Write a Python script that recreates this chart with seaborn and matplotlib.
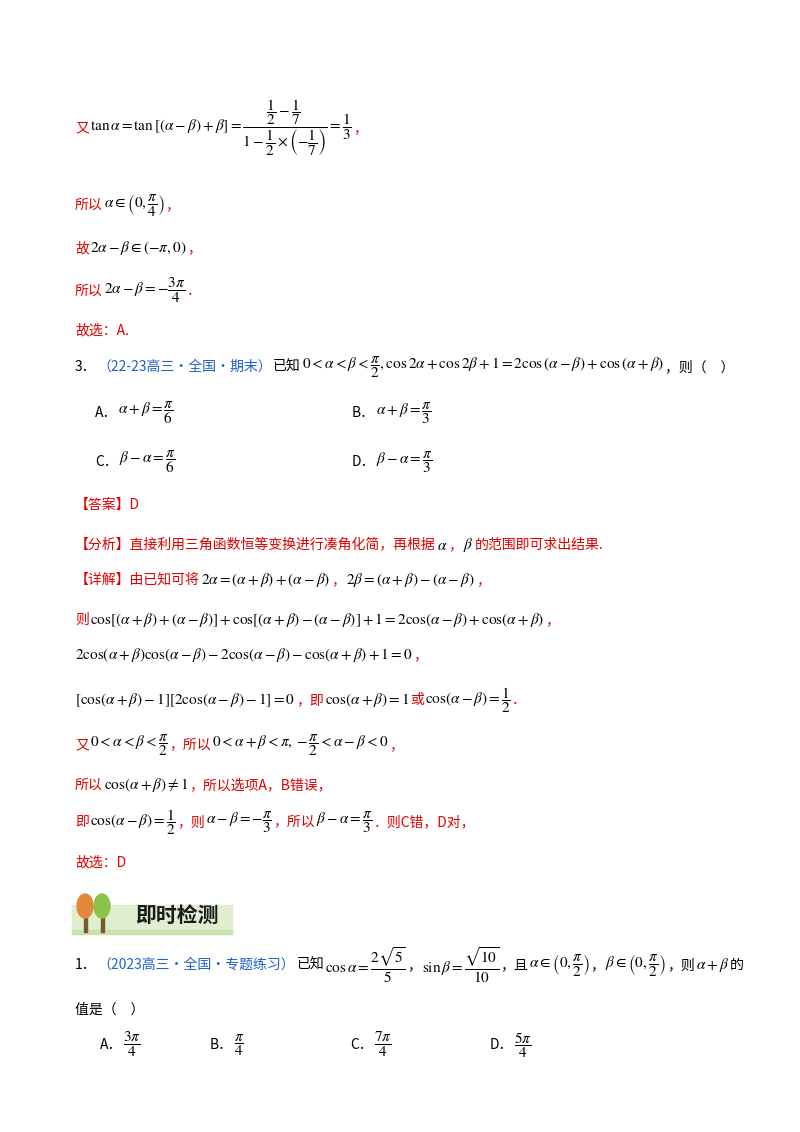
import matplotlib
matplotlib.use("Agg")
import matplotlib.pyplot as plt
import seaborn as sns
from matplotlib.patches import Rectangle, Ellipse

sns.set_theme(style="white")
plt.rcParams['font.family'] = ['Noto Sans CJK SC', 'DejaVu Sans']
plt.rcParams['mathtext.fontset'] = 'stix'

R, K, B = '#e00000', '#000000', '#1f5fd0'
FS = 10
MS = 11

def F(a, b):
    return r"\dfrac{%s}{%s}" % (a, b)

lines = [
    (128, 75, [("又", R), (r"$\tan\alpha=\tan\left[\left(\alpha-\beta\right)+\beta\right]=" + F(r"\dfrac{1}{2}-\dfrac{1}{7}", r"1-\dfrac{1}{2}\times\left(-\dfrac{1}{7}\right)") + "=" + F("1", "3") + "$", K), ("，", R)]),
    (205, 75, [("所以", R), (r"$\alpha\in\left(0," + F(r"\pi", "4") + r"\right)$", K), ("，", R)]),
    (248, 75, [("故", R), (r"$2\alpha-\beta\in\left(-\pi,0\right)$", K), ("，", R)]),
    (291, 75, [("所以", R), (r"$2\alpha-\beta=-" + F(r"3\pi", "4") + "$", K), ("．", R)]),
    (330, 75, [("故选：A.", R)]),
    (367, 75, [("3．", K), ("（22-23高三·全国·期末）", B), ("已知", K),
               (r"$0<\alpha<\beta<" + F(r"\pi", "2") + r",\cos 2\alpha+\cos 2\beta+1=2\cos\left(\alpha-\beta\right)+\cos\left(\alpha+\beta\right)$", K),
               ("，则（　）", K)]),
    (413, 95, [("A．", K), (r"$\alpha+\beta=" + F(r"\pi", "6") + "$", K)]),
    (413, 352, [("B．", K), (r"$\alpha+\beta=" + F(r"\pi", "3") + "$", K)]),
    (462, 95, [("C．", K), (r"$\beta-\alpha=" + F(r"\pi", "6") + "$", K)]),
    (462, 352, [("D．", K), (r"$\beta-\alpha=" + F(r"\pi", "3") + "$", K)]),
    (505, 75, [("【答案】D", R)]),
    (545, 75, [("【分析】直接利用三角函数恒等变换进行凑角化简，再根据", R), (r"$\alpha$", K), ("，", R), (r"$\beta$", K), ("的范围即可求出结果.", R)]),
    (580, 75, [("【详解】由已知可将", R), (r"$2\alpha=\left(\alpha+\beta\right)+\left(\alpha-\beta\right)$", K), ("，", R),
               (r"$2\beta=\left(\alpha+\beta\right)-\left(\alpha-\beta\right)$", K), ("，", R)]),
    (620, 75, [("则", R), (r"$\cos[(\alpha+\beta)+(\alpha-\beta)]+\cos[(\alpha+\beta)-(\alpha-\beta)]+1=2\cos(\alpha-\beta)+\cos(\alpha+\beta)$", K), ("，", R)]),
    (655, 75, [(r"$2\cos(\alpha+\beta)\cos(\alpha-\beta)-2\cos(\alpha-\beta)-\cos(\alpha+\beta)+1=0$", K), ("，", R)]),
    (700, 75, [(r"$[\cos(\alpha+\beta)-1][2\cos(\alpha-\beta)-1]=0$", K), ("，即", R), (r"$\cos(\alpha+\beta)=1$", K), ("或", R),
               (r"$\cos(\alpha-\beta)=" + F("1", "2") + "$", K), ("．", R)]),
    (745, 75, [("又", R), (r"$0<\alpha<\beta<" + F(r"\pi", "2") + "$", K), ("，所以", R), (r"$0<\alpha+\beta<\pi,-" + F(r"\pi", "2") + r"<\alpha-\beta<0$", K), ("，", R)]),
    (785, 75, [("所以", R), (r"$\cos(\alpha+\beta)\neq 1$", K), ("，所以选项A，B错误，", R)]),
    (822, 75, [("即", R), (r"$\cos(\alpha-\beta)=" + F("1", "2") + "$", K), ("，则", R), (r"$\alpha-\beta=-" + F(r"\pi", "3") + "$", K), ("，所以", R),
               (r"$\beta-\alpha=" + F(r"\pi", "3") + "$", K), ("．则C错，D对，", R)]),
    (862, 75, [("故选：D", R)]),
    (965, 75, [("1．", K), ("（2023高三·全国·专题练习）", B), ("已知", K), (r"$\cos\alpha=" + F(r"2\sqrt{5}", "5") + "$", K), ("，", K),
               (r"$\sin\beta=" + F(r"\sqrt{10}", "10") + "$", K), ("，且", K), (r"$\alpha\in\left(0," + F(r"\pi", "2") + r"\right)$", K), ("，", K),
               (r"$\beta\in\left(0," + F(r"\pi", "2") + r"\right)$", K), ("，则", K), (r"$\alpha+\beta$", K), ("的", K)]),
    (1010, 75, [("值是（　）", K)]),
    (1045, 100, [("A．", K), (r"$" + F(r"3\pi", "4") + "$", K)]),
    (1045, 210, [("B．", K), (r"$" + F(r"\pi", "4") + "$", K)]),
    (1045, 350, [("C．", K), (r"$" + F(r"7\pi", "4") + "$", K)]),
    (1045, 490, [("D．", K), (r"$" + F(r"5\pi", "4") + "$", K)]),
]
banner_title = "即时检测"

W, H = 800, 1132
fig = plt.figure(figsize=(8, 11.32), dpi=100)
fig.patch.set_facecolor('white')
r = fig.canvas.get_renderer()

def draw(py, px, segs):
    x = px
    for s, c in segs:
        fs = MS if s.startswith("$") else FS
        t = fig.text(x / W, 1 - py / H, s, color=c, fontsize=fs, va='center', ha='left')
        bb = t.get_window_extent(renderer=r)
        x += bb.width + 1

for py, px, segs in lines:
    draw(py, px, segs)

ax = fig.add_axes([0, 0, 1, 1], zorder=-1)
ax.set_xlim(0, W); ax.set_ylim(H, 0); ax.axis('off')
ax.add_patch(Rectangle((72, 905), 160, 28, color='#dfeecf'))
ax.add_patch(Rectangle((72, 930), 160, 4, color='#c8e2ae'))
for cx, col in [(85, '#e38a3a'), (102, '#8cc24a')]:
    ax.add_patch(Rectangle((cx - 1.5, 912), 3, 20, color='#7a5a2a'))
    ax.add_patch(Ellipse((cx, 906), 16, 24, color=col))
fig.text(135 / W, 1 - 915 / H, banner_title, fontsize=15, fontweight='bold', color='#1a1a1a', va='center')

fig.savefig("out.png", dpi=100, facecolor='white')
